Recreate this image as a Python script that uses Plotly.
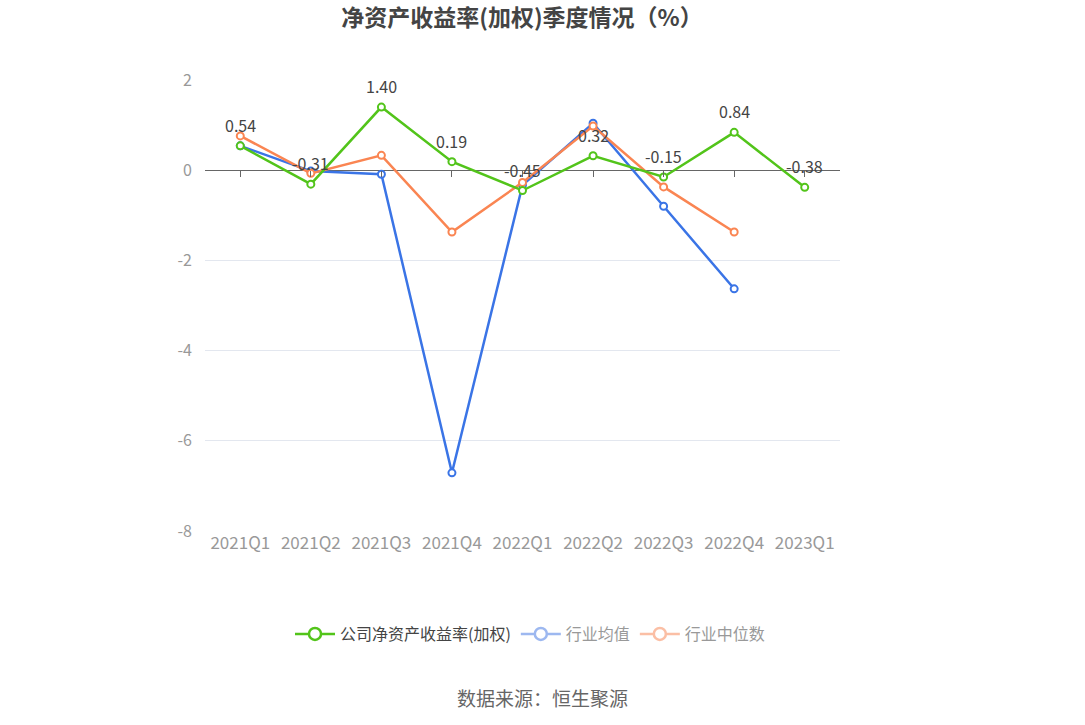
import plotly.graph_objects as go

categories = ["2021Q1", "2021Q2", "2021Q3", "2021Q4", "2022Q1", "2022Q2", "2022Q3", "2022Q4", "2023Q1"]
company = [0.54, -0.31, 1.40, 0.19, -0.45, 0.32, -0.15, 0.84, -0.38]
industry_mean = [0.54, -0.02, -0.09, -6.71, -0.33, 1.04, -0.80, -2.63, None]
industry_median = [0.76, -0.07, 0.33, -1.37, -0.27, 0.98, -0.37, -1.37, None]
company_labels = ["0.54", "-0.31", "1.40", "0.19", "-0.45", "0.32", "-0.15", "0.84", "-0.38"]
yticks = [2, 0, -2, -4, -6, -8]
ytick_text = ["2", "0", "-2", "-4", "-6", "-8"]

GREEN = "#52c41a"
BLUE = "#3a74e6"
ORANGE = "#fa8552"
FONT = "Noto Sans CJK SC"

fig = go.Figure()

def add_series(y, color, name):
    fig.add_trace(go.Scatter(
        x=categories, y=y, mode="lines+markers", name=name,
        line=dict(color=color, width=2.5),
        marker=dict(symbol="circle", size=7, color="white", line=dict(color=color, width=2)),
        showlegend=False, hoverinfo="skip", cliponaxis=False,
    ))

# invisible trace on the tick axis at zero
fig.add_trace(go.Scatter(x=categories, y=[0] * len(categories), mode="lines",
                         line=dict(color="rgba(0,0,0,0)", width=0), showlegend=False,
                         hoverinfo="skip", xaxis="x2"))

add_series(industry_mean, BLUE, "行业均值")
add_series(industry_median, ORANGE, "行业中位数")
add_series(company, GREEN, "公司净资产收益率(加权)")

# legend proxies
legend_items = [("公司净资产收益率(加权)", GREEN, "#444444"),
                ("行业均值", "#9db8f0", "#999999"),
                ("行业中位数", "#fbbfa5", "#999999")]
for name, color, tcolor in legend_items:
    fig.add_trace(go.Scatter(
        x=[None], y=[None], mode="lines+markers",
        name=f'<span style="color:{tcolor}">{name}</span>',
        line=dict(color=color, width=2.5),
        marker=dict(symbol="circle", size=12, color="white", line=dict(color=color, width=2.5)),
    ))

for c, v, t in zip(categories, company, company_labels):
    fig.add_annotation(x=c, y=v, text=t, showarrow=False, yshift=21,
                       font=dict(family=FONT, size=16, color="#444444"))

fig.add_annotation(text="数据来源：恒生聚源", x=(542 - 205) / 635, xref="paper", xanchor="center",
                   y=(531 - 697) / 451, yref="paper", yanchor="middle", showarrow=False,
                   font=dict(family=FONT, size=19, color="#666666"))

fig.update_layout(
    width=1085, height=725,
    margin=dict(l=205, r=245, t=80, b=194),
    paper_bgcolor="white", plot_bgcolor="white",
    font=dict(family=FONT, color="#999999"),
    title=dict(text="<b>净资产收益率(加权)季度情况（%）</b>", x=522 / 1085, xanchor="center",
               y=1 - 18 / 725, yanchor="middle",
               font=dict(family=FONT, size=23, color="#444444")),
    xaxis=dict(type="category", categoryorder="array", categoryarray=categories,
               showgrid=False, showline=False, ticks="", zeroline=False,
               tickfont=dict(family=FONT, size=17, color="#999999"),
               range=[-0.5, 8.5]),
    xaxis2=dict(type="category", categoryorder="array", categoryarray=categories,
                overlaying="x", anchor="free", position=0.8, side="bottom",
                showgrid=False, showline=False, ticks="outside", ticklen=6,
                tickcolor="#666666", tickwidth=1, showticklabels=False, zeroline=False,
                range=[-0.5, 8.5]),
    yaxis=dict(range=[-8, 2], tickvals=yticks, ticktext=ytick_text, showgrid=True,
               gridcolor="#e3e7ef", gridwidth=1, zeroline=True, zerolinecolor="#666666",
               zerolinewidth=1, showline=False, ticks="",
               tickfont=dict(family=FONT, size=16, color="#999999"),
               ticklabelstandoff=12),
    legend=dict(orientation="h", x=(530 - 205) / 635, xanchor="center",
                y=(531 - 634) / 451, yanchor="middle",
                font=dict(family=FONT, size=16, color="#444444"),
                itemwidth=40, tracegroupgap=0),
)

fig.write_html("out.html")
